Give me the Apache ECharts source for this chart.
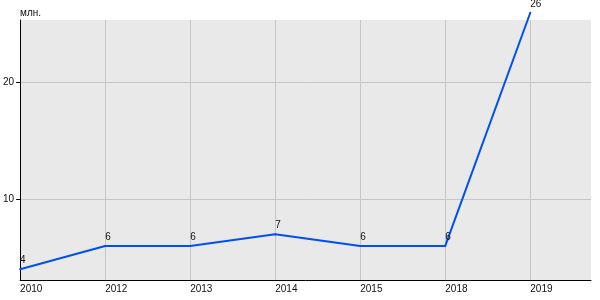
<!DOCTYPE html>
<html><head><meta charset="utf-8">
<script src="https://cdn.jsdelivr.net/npm/echarts@6/dist/echarts.min.js"></script>
<style>html,body{margin:0;padding:0;background:#fff}#c{width:600px;height:300px}</style>
</head><body><div id="c"></div>
<script>
const years = ['2010','2012','2013','2014','2015','2018','2019'];
const values = [4, 6, 6, 7, 6, 6, 26];
const yTicks = [10, 20];
const unitName = 'млн.';

const idx = years.map((_, i) => i);
const font = 'Liberation Sans, Arial, sans-serif';
const chart = echarts.init(document.getElementById('c'), null, {renderer: 'canvas'});
chart.setOption({
  animation: false,
  grid: {left: 20, right: 9, top: 20, bottom: 20, show: true, backgroundColor: '#e9e9e9', borderWidth: 0},
  xAxis: {
    type: 'value', min: 0, max: 6.714,
    axisLine: {show: true, lineStyle: {color: '#000', width: 1}},
    axisTick: {show: false, customValues: idx},
    splitLine: {show: true, lineStyle: {color: '#c6c6c6', width: 1}},
    axisLabel: {customValues: idx, formatter: v => years[Math.round(v)] || '', align: 'left', color: '#111', fontSize: 10, fontFamily: font, margin: 4}
  },
  yAxis: {
    type: 'value', min: 3.08, max: 25.38,
    name: unitName, nameLocation: 'end', nameGap: 2,
    nameTextStyle: {align: 'left', color: '#111', fontSize: 10, fontFamily: font},
    axisLine: {show: true, lineStyle: {color: '#000', width: 1}},
    axisTick: {show: true, length: 4, customValues: yTicks, lineStyle: {color: '#000'}},
    splitLine: {show: true, lineStyle: {color: '#c6c6c6', width: 1}},
    axisLabel: {customValues: yTicks, color: '#111', fontSize: 10, fontFamily: font, margin: 6}
  },
  series: [{
    type: 'line',
    data: idx.map(i => [i, values[i]]),
    clip: false,
    symbol: 'circle',
    symbolSize: 2,
    showSymbol: true,
    itemStyle: {color: '#0050f0'},
    lineStyle: {color: '#0050f0', width: 2},
    label: {show: true, position: 'top', align: 'left', distance: 3, color: '#111', fontSize: 10, fontFamily: font}
  }]
});
</script></body></html>
